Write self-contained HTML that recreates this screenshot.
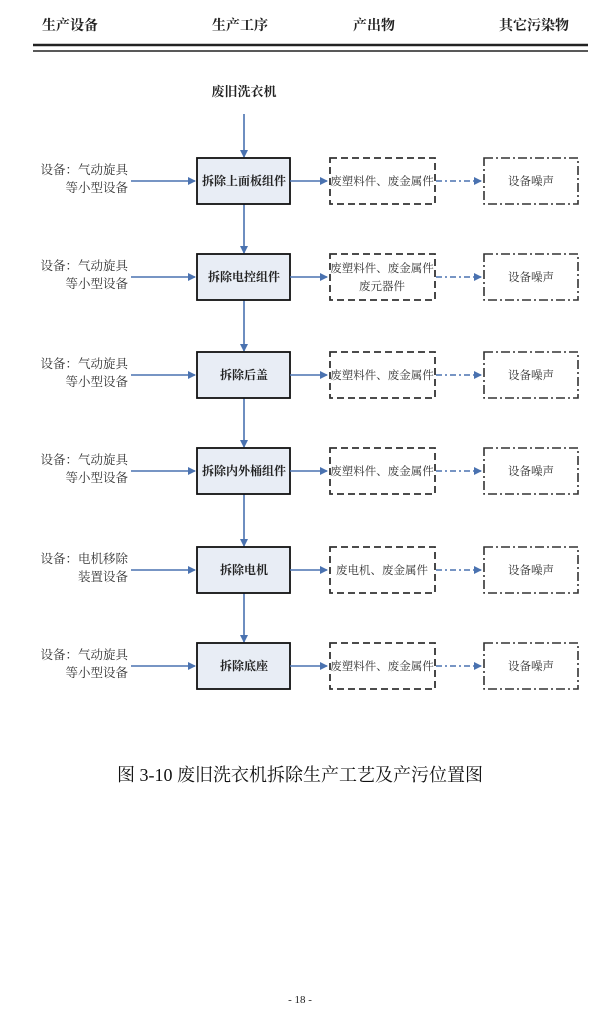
<!DOCTYPE html>
<html><head><meta charset="utf-8"><style>
body{margin:0;background:#fff;}
svg{display:block;}
text{font-family:"Liberation Serif","Noto Serif CJK SC","Noto Sans CJK SC",serif;}
.bx{fill:#e8edf5;stroke:#111;stroke-width:1.8}
.bt{font-size:12px;font-weight:bold;text-anchor:middle;fill:#222}
.lt{font-size:12.5px;text-anchor:end;fill:#333}
.mt{font-size:11.5px;text-anchor:middle;fill:#333}
.ar{stroke:#4a72b0;stroke-width:1.6}
.dr{stroke:#4a72b0;stroke-width:1.4;stroke-dasharray:6,3,2,3}
.d1{fill:none;stroke:#333;stroke-width:1.8;stroke-dasharray:7,4}
.d2{fill:none;stroke:#333;stroke-width:1.6;stroke-dasharray:9,3,2,3}
</style></head><body>
<svg width="600" height="1009" viewBox="0 0 600 1009" xmlns="http://www.w3.org/2000/svg">
<defs>
<marker id="a" markerWidth="8" markerHeight="8" refX="7" refY="4" orient="auto" markerUnits="userSpaceOnUse">
<path d="M0,0 L8,4 L0,8 Z" fill="#4a72b0"/></marker>
</defs>
<g font-size="14" font-weight="bold" fill="#222" text-anchor="middle">
<text x="70" y="30">生产设备</text>
<text x="240" y="30">生产工序</text>
<text x="374" y="30">产出物</text>
<text x="534" y="30">其它污染物</text>
</g>
<line x1="33" y1="45" x2="588" y2="45" stroke="#222" stroke-width="2.5"/>
<line x1="33" y1="51" x2="588" y2="51" stroke="#222" stroke-width="1.5"/>
<text x="244" y="96" class="bt" style="font-size:13px">废旧洗衣机</text>
<line x1="244" y1="114" x2="244" y2="157" class="ar" marker-end="url(#a)"/>

<line x1="244" y1="204" x2="244" y2="253" class="ar" marker-end="url(#a)"/>
<line x1="244" y1="300" x2="244" y2="351" class="ar" marker-end="url(#a)"/>
<line x1="244" y1="398" x2="244" y2="447" class="ar" marker-end="url(#a)"/>
<line x1="244" y1="494" x2="244" y2="546" class="ar" marker-end="url(#a)"/>
<line x1="244" y1="593" x2="244" y2="642" class="ar" marker-end="url(#a)"/>

<g transform="translate(0,181)">
<rect x="197" y="-23" width="93" height="46" class="bx"/>
<text x="244" y="4" class="bt">拆除上面板组件</text>
<text x="128" y="-7" class="lt">设备：气动旋具</text>
<text x="128" y="11" class="lt">等小型设备</text>
<line x1="131" y1="0" x2="195" y2="0" class="ar" marker-end="url(#a)"/>
<line x1="290" y1="0" x2="327" y2="0" class="ar" marker-end="url(#a)"/>
<rect x="330" y="-23" width="105" height="46" class="d1"/>
<text x="382" y="4" class="mt">废塑料件、废金属件</text>
<line x1="436" y1="0" x2="481" y2="0" class="dr" marker-end="url(#a)"/>
<rect x="484" y="-23" width="94" height="46" class="d2"/>
<text x="531" y="4" class="mt">设备噪声</text>
</g>
<g transform="translate(0,277)">
<rect x="197" y="-23" width="93" height="46" class="bx"/>
<text x="244" y="4" class="bt">拆除电控组件</text>
<text x="128" y="-7" class="lt">设备：气动旋具</text>
<text x="128" y="11" class="lt">等小型设备</text>
<line x1="131" y1="0" x2="195" y2="0" class="ar" marker-end="url(#a)"/>
<line x1="290" y1="0" x2="327" y2="0" class="ar" marker-end="url(#a)"/>
<rect x="330" y="-23" width="105" height="46" class="d1"/>
<text x="382" y="-5" class="mt">废塑料件、废金属件</text>
<text x="382" y="13" class="mt">废元器件</text>
<line x1="436" y1="0" x2="481" y2="0" class="dr" marker-end="url(#a)"/>
<rect x="484" y="-23" width="94" height="46" class="d2"/>
<text x="531" y="4" class="mt">设备噪声</text>
</g>
<g transform="translate(0,375)">
<rect x="197" y="-23" width="93" height="46" class="bx"/>
<text x="244" y="4" class="bt">拆除后盖</text>
<text x="128" y="-7" class="lt">设备：气动旋具</text>
<text x="128" y="11" class="lt">等小型设备</text>
<line x1="131" y1="0" x2="195" y2="0" class="ar" marker-end="url(#a)"/>
<line x1="290" y1="0" x2="327" y2="0" class="ar" marker-end="url(#a)"/>
<rect x="330" y="-23" width="105" height="46" class="d1"/>
<text x="382" y="4" class="mt">废塑料件、废金属件</text>
<line x1="436" y1="0" x2="481" y2="0" class="dr" marker-end="url(#a)"/>
<rect x="484" y="-23" width="94" height="46" class="d2"/>
<text x="531" y="4" class="mt">设备噪声</text>
</g>
<g transform="translate(0,471)">
<rect x="197" y="-23" width="93" height="46" class="bx"/>
<text x="244" y="4" class="bt">拆除内外桶组件</text>
<text x="128" y="-7" class="lt">设备：气动旋具</text>
<text x="128" y="11" class="lt">等小型设备</text>
<line x1="131" y1="0" x2="195" y2="0" class="ar" marker-end="url(#a)"/>
<line x1="290" y1="0" x2="327" y2="0" class="ar" marker-end="url(#a)"/>
<rect x="330" y="-23" width="105" height="46" class="d1"/>
<text x="382" y="4" class="mt">废塑料件、废金属件</text>
<line x1="436" y1="0" x2="481" y2="0" class="dr" marker-end="url(#a)"/>
<rect x="484" y="-23" width="94" height="46" class="d2"/>
<text x="531" y="4" class="mt">设备噪声</text>
</g>
<g transform="translate(0,570)">
<rect x="197" y="-23" width="93" height="46" class="bx"/>
<text x="244" y="4" class="bt">拆除电机</text>
<text x="128" y="-7" class="lt">设备：电机移除</text>
<text x="128" y="11" class="lt">装置设备</text>
<line x1="131" y1="0" x2="195" y2="0" class="ar" marker-end="url(#a)"/>
<line x1="290" y1="0" x2="327" y2="0" class="ar" marker-end="url(#a)"/>
<rect x="330" y="-23" width="105" height="46" class="d1"/>
<text x="382" y="4" class="mt">废电机、废金属件</text>
<line x1="436" y1="0" x2="481" y2="0" class="dr" marker-end="url(#a)"/>
<rect x="484" y="-23" width="94" height="46" class="d2"/>
<text x="531" y="4" class="mt">设备噪声</text>
</g>
<g transform="translate(0,666)">
<rect x="197" y="-23" width="93" height="46" class="bx"/>
<text x="244" y="4" class="bt">拆除底座</text>
<text x="128" y="-7" class="lt">设备：气动旋具</text>
<text x="128" y="11" class="lt">等小型设备</text>
<line x1="131" y1="0" x2="195" y2="0" class="ar" marker-end="url(#a)"/>
<line x1="290" y1="0" x2="327" y2="0" class="ar" marker-end="url(#a)"/>
<rect x="330" y="-23" width="105" height="46" class="d1"/>
<text x="382" y="4" class="mt">废塑料件、废金属件</text>
<line x1="436" y1="0" x2="481" y2="0" class="dr" marker-end="url(#a)"/>
<rect x="484" y="-23" width="94" height="46" class="d2"/>
<text x="531" y="4" class="mt">设备噪声</text>
</g>

<text x="300" y="781" font-size="18" text-anchor="middle" fill="#111">图 3-10  废旧洗衣机拆除生产工艺及产污位置图</text>
<text x="300" y="1003" font-size="11" text-anchor="middle" fill="#222">- 18 -</text>
</svg>
</body></html>
